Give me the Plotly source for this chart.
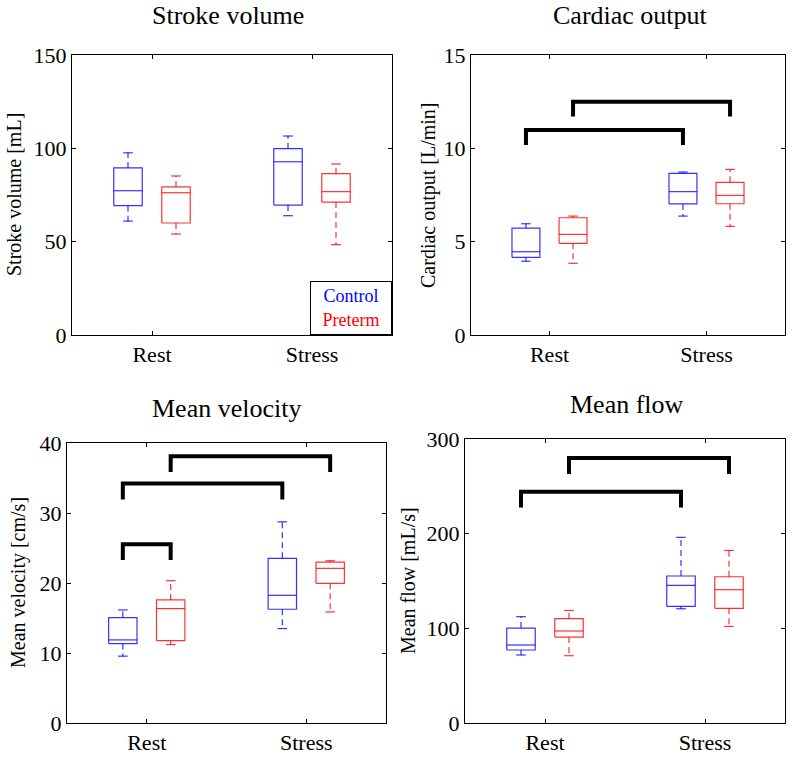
import plotly.graph_objects as go

# ---------------- data (five-number summaries: whisker low, q1, median, q3, whisker high) ----
groups = ["Rest", "Stress"]
series_names = ["Control", "Preterm"]
series_colors = ["#0000ff", "#ff0000"]

sv_control = [[61.0, 69.3, 77.3, 89.5, 97.6], [63.9, 69.6, 92.8, 99.8, 106.6]]
sv_preterm = [[54.1, 60.0, 76.2, 79.3, 85.2], [48.4, 71.2, 76.8, 86.4, 91.6]]

co_control = [[3.95, 4.16, 4.46, 5.73, 5.96], [6.37, 7.02, 7.68, 8.66, 8.73]]
co_preterm = [[3.84, 4.91, 5.39, 6.28, 6.37], [5.82, 7.03, 7.48, 8.18, 8.87]]

mv_control = [[9.55, 11.35, 11.87, 15.06, 16.15], [13.49, 16.25, 18.24, 23.52, 28.74]]
mv_preterm = [[11.2, 11.78, 16.34, 17.58, 20.33], [15.87, 19.96, 22.09, 22.99, 23.18]]

mf_control = [[71.8, 77.1, 82.4, 100.3, 112.3], [120.7, 123.2, 145.4, 155.3, 196.1]]
mf_preterm = [[71.1, 90.8, 97.2, 110.2, 118.9], [102.0, 121.1, 140.8, 154.5, 182.3]]

# significance brackets: (group_a, series_a, group_b, series_b, leg bottom, bar top)
sv_brackets = []
co_brackets = [(0, 0, 1, 0, 10.18, 10.98), (0, 1, 1, 1, 11.7, 12.5)]
mv_brackets = [(0, 0, 0, 1, 23.28, 25.52), (0, 0, 1, 0, 31.93, 34.21), (0, 1, 1, 1, 35.87, 38.1)]
mf_brackets = [(0, 0, 1, 0, 227.7, 244.3), (0, 1, 1, 1, 263.0, 279.9)]

titles = ["Stroke volume", "Cardiac output", "Mean velocity", "Mean flow"]
ylabels = ["Stroke volume [mL]", "Cardiac output [L/min]", "Mean velocity [cm/s]", "Mean flow [mL/s]"]
yranges = [[0, 150], [0, 15], [0, 40], [0, 300]]
ytickvals = [[0, 50, 100, 150], [0, 5, 10, 15], [0, 10, 20, 30, 40], [0, 100, 200, 300]]

panels = [
    (sv_control, sv_preterm, sv_brackets),
    (co_control, co_preterm, co_brackets),
    (mv_control, mv_preterm, mv_brackets),
    (mf_control, mf_preterm, mf_brackets),
]

# ---------------- layout geometry (page pixels of the 792x767 window) ----------------
W, H = 792, 767
boxes_px = [  # left, right, top, bottom
    (72, 392, 55, 335),
    (471, 785, 55, 335),
    (67, 386, 443, 723),
    (465, 785, 439, 723),
]
title_pos = [(227.5, 16), (630, 16), (226, 408), (627, 404.5)]
ylabel_x = [14, 428, 18, 408]


def px_x(p):
    return p / W


def px_y(p):
    return 1 - p / H


offsets = [-0.15, 0.15]
half_w = 0.089
cap_w = 0.03
FONT = "Liberation Serif"

fig = go.Figure()
annotations = []

for i, (ctrl, pret, brackets) in enumerate(panels):
    xa = "x" if i == 0 else f"x{i+1}"
    ya = "y" if i == 0 else f"y{i+1}"
    for s, data in enumerate([ctrl, pret]):
        col = series_colors[s]
        bx, by, mx, my, wx, wy, cx, cy = [], [], [], [], [], [], [], []
        for g, (lo, q1, med, q3, hi) in enumerate(data):
            c = g + 1 + offsets[s]
            bx += [c - half_w, c + half_w, c + half_w, c - half_w, c - half_w, None]
            by += [q1, q1, q3, q3, q1, None]
            mx += [c - half_w, c + half_w, None]
            my += [med, med, None]
            wx += [c, c, None, c, c, None]
            wy += [q3, hi, None, q1, lo, None]
            cx += [c - cap_w, c + cap_w, None, c - cap_w, c + cap_w, None]
            cy += [hi, hi, None, lo, lo, None]
        for xs, ys, dash in [(bx, by, "solid"), (mx, my, "solid"), (wx, wy, "6px,4px"), (cx, cy, "solid")]:
            fig.add_trace(go.Scatter(x=xs, y=ys, mode="lines", xaxis=xa, yaxis=ya,
                                     line=dict(color=col, width=1.2, dash=dash),
                                     opacity=0.8, showlegend=False, hoverinfo="skip"))
    # brackets
    for (ga, sa, gb, sb, ybot, ytop) in brackets:
        xa0 = ga + 1 + offsets[sa]
        xb0 = gb + 1 + offsets[sb]
        fig.add_trace(go.Scatter(x=[xa0, xa0, xb0, xb0], y=[ybot, ytop, ytop, ybot], mode="lines",
                                 xaxis=xa, yaxis=ya, line=dict(color="black", width=4),
                                 showlegend=False, hoverinfo="skip"))

    l, r, t, b = boxes_px[i]
    axis_common = dict(showline=True, linecolor="black", linewidth=1, mirror="ticks",
                       ticks="inside", ticklen=4, tickcolor="black", showgrid=False,
                       zeroline=False, automargin=False, fixedrange=True,
                       tickfont=dict(family=FONT, size=22, color="black"))
    xkey = "xaxis" if i == 0 else f"xaxis{i+1}"
    ykey = "yaxis" if i == 0 else f"yaxis{i+1}"
    fig.update_layout(**{
        xkey: dict(domain=[px_x(l), px_x(r)], range=[0.5, 2.5], tickvals=[1, 2], ticktext=groups,
                   anchor=ya, **axis_common),
        ykey: dict(domain=[px_y(b), px_y(t)], range=yranges[i], tickvals=ytickvals[i],
                   anchor=xa, **axis_common),
    })
    tx, ty = title_pos[i]
    annotations.append(dict(text=titles[i], x=px_x(tx), y=px_y(ty), xref="paper", yref="paper",
                            xanchor="center", yanchor="middle", showarrow=False,
                            font=dict(family=FONT, size=26, color="black")))
    annotations.append(dict(text=ylabels[i], x=px_x(ylabel_x[i]), y=px_y((t + b) / 2),
                            xref="paper", yref="paper", xanchor="center", yanchor="middle",
                            textangle=-90, showarrow=False,
                            font=dict(family=FONT, size=20, color="black")))

# legend box in the first panel (bottom-right corner)
annotations.append(dict(
    text=f"<span style='color:{series_colors[0]}'>{series_names[0]}</span><br>"
         f"<span style='color:{series_colors[1]}'>{series_names[1]}</span>",
    x=1, y=0, xref="x domain", yref="y domain", xanchor="right", yanchor="bottom",
    showarrow=False, bordercolor="black", borderwidth=1, bgcolor="white",
    width=72, height=44, borderpad=4, align="center",
    font=dict(family=FONT, size=18)))

fig.update_layout(width=W, height=H, margin=dict(l=0, r=0, t=0, b=0, autoexpand=False),
                  paper_bgcolor="white", plot_bgcolor="white", annotations=annotations,
                  showlegend=False, hovermode=False)

fig.write_html("out.html",
               config={"displayModeBar": False, "staticPlot": True},
               post_script="document.body.style.margin='0px';document.body.style.overflow='hidden';")
